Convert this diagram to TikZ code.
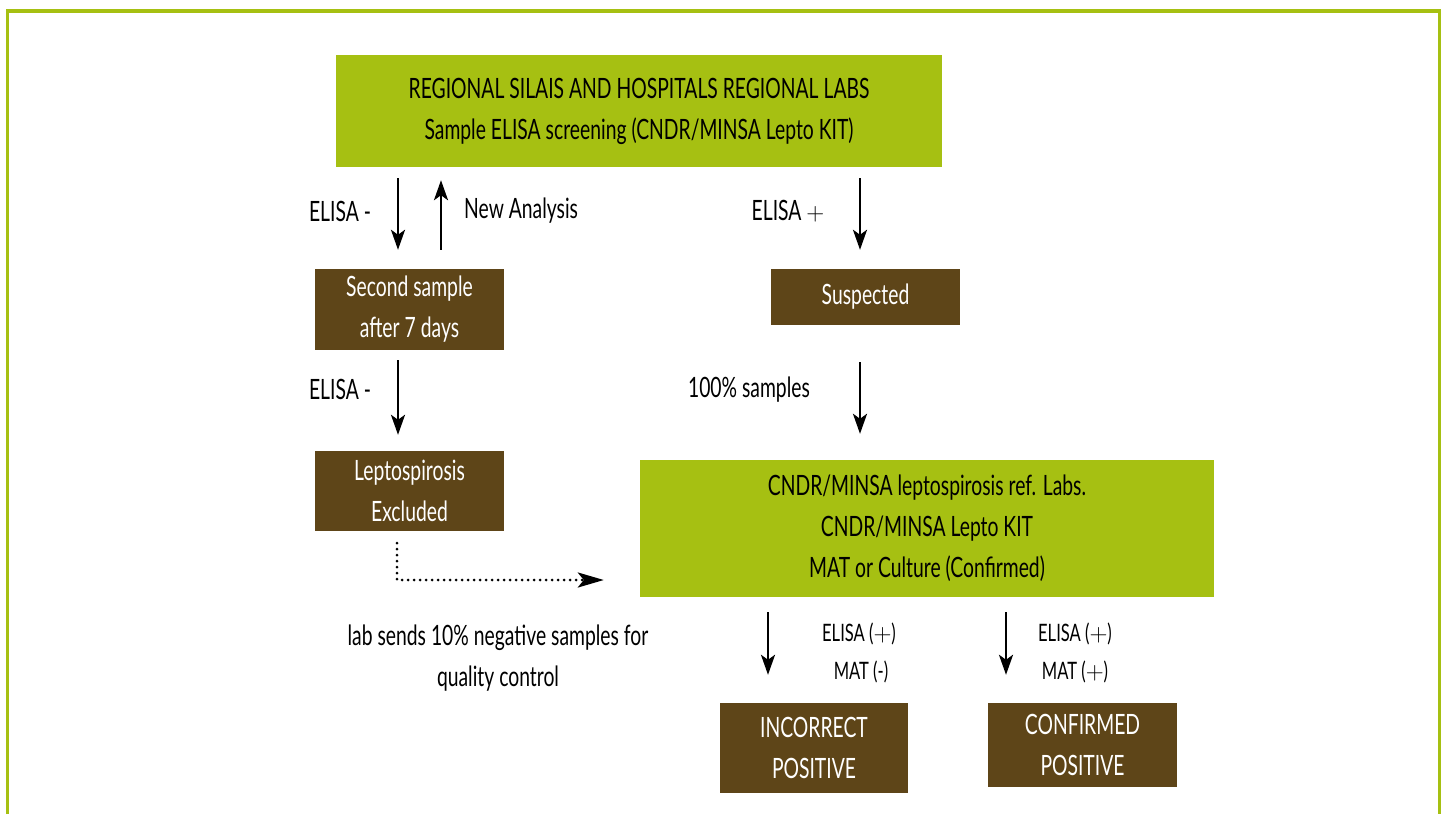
\documentclass[tikz,border=0pt]{standalone}
\usepackage{fontspec}
\setmainfont[FakeStretch=0.69]{Lato}
\usetikzlibrary{arrows.meta}
\definecolor{lgreen}{HTML}{A6C012}
\definecolor{brown}{HTML}{5E4518}
\newcommand{\pls}{\ensuremath{+}}
\tikzset{
  gbox/.style={fill=lgreen, draw=none, text=black, align=center, inner sep=0pt},
  bbox/.style={fill=brown, draw=none, text=white, align=center, inner sep=0pt},
  lbl/.style={text=black, align=center, inner sep=0pt},
  arr/.style={line width=2.6pt, -{Stealth[length=20pt,width=14pt,inset=5pt]}},
  dotarr/.style={line width=3pt, line cap=round, dash pattern=on 0pt off 6pt, -{Stealth[length=26pt,width=15pt,inset=6pt,line cap=butt]}},
}
\begin{document}
\begin{tikzpicture}[x=1pt,y=-1pt, font=\fontsize{28}{41}\selectfont]
\useasboundingbox (0,0) rectangle (1448,814);
\draw[lgreen, line width=3.5pt] (7.5,814) -- (7.5,11) -- (1439.5,11) -- (1439.5,814);

\node[gbox, minimum width=606pt, minimum height=112pt] (top) at (639,111)
  {REGIONAL SILAIS AND HOSPITALS REGIONAL LABS\\Sample ELISA screening (CNDR/MINSA Lepto KIT)};
\node[bbox, minimum width=189pt, minimum height=81pt] (second) at (409.5,309.5)
  {Second sample\\after 7 days};
\node[bbox, minimum width=189pt, minimum height=56pt] (susp) at (865.5,297)
  {Suspected};
\node[bbox, minimum width=189pt, minimum height=80pt] (excl) at (409.5,491)
  {Leptospirosis\\Excluded};
\node[gbox, minimum width=574pt, minimum height=137pt] (ref) at (927,528.5)
  {CNDR/MINSA leptospirosis ref. Labs.\\CNDR/MINSA Lepto KIT\\MAT or Culture (Confirmed)};
\node[bbox, minimum width=188pt, minimum height=90pt] (incorr) at (814,748)
  {INCORRECT\\POSITIVE};
\node[bbox, minimum width=189pt, minimum height=84pt] (conf) at (1082.5,745)
  {CONFIRMED\\POSITIVE};

% labels
\node[lbl] (l1) at (340,211) {ELISA -};
\node[lbl, anchor=west] (l2) at (464,211) {New Analysis};
\node[lbl] (l3) at (788,211) {ELISA \pls};
\node[lbl] (l4) at (340,389) {ELISA -};
\node[lbl] (l5) at (749,390) {100\% samples};
\node[lbl] (l6) at (498,658) {lab sends 10\% negative samples for\\quality control};
\node[lbl, font=\fontsize{24}{38}\selectfont] (l7) at (859,653) {ELISA (\pls)\\\,MAT (-)};
\node[lbl, font=\fontsize{24}{38}\selectfont] (l8) at (1075,653) {ELISA (\pls)\\MAT (\pls)};

% arrows
\draw[arr, shorten <=11pt, shorten >=19pt] (398,0 |- top.south) -- (398,0 |- second.north);
\draw[arr, shorten <=19pt, shorten >=13pt] (441,0 |- second.north) -- (441,0 |- top.south);
\draw[arr, shorten <=11pt, shorten >=19pt] (860,0 |- top.south) -- (860,0 |- susp.north);
\draw[arr, shorten <=10pt, shorten >=16pt] (398,0 |- second.south) -- (398,0 |- excl.north);
\draw[arr, shorten <=37pt, shorten >=26pt] (860,0 |- susp.south) -- (860,0 |- ref.north);
\draw[arr, shorten <=15pt, shorten >=28pt] (768,0 |- ref.south) -- (768,0 |- incorr.north);
\draw[arr, shorten <=15pt, shorten >=28pt] (1006,0 |- ref.south) -- (1006,0 |- conf.north);
\coordinate (bend) at (397,580);
\draw[dotarr, shorten <=12pt, shorten >=36pt] (397,0 |- excl.south) -- (bend) -- (bend -| ref.west);
\end{tikzpicture}
\end{document}
